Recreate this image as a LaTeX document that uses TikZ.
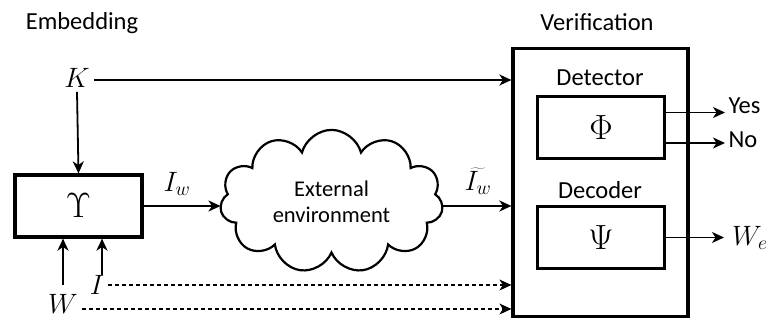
\documentclass[tikz,border=0pt]{standalone}
\usepackage{fix-cm}
\usepackage[no-math]{fontspec}
\setmainfont{Carlito}
\usetikzlibrary{arrows.meta, positioning, shapes.symbols}

\begin{document}
\begin{tikzpicture}[x=1pt, y=-1pt,
    lbl/.style={font=\fontsize{24.5}{27}\selectfont},
    sym/.style={font=\fontsize{28}{31}\selectfont, inner sep=4pt},
    blk/.style={draw, line width=3.2pt, minimum width=127pt, minimum height=62pt,
                inner sep=0pt, font=\fontsize{35}{38}\selectfont},
    env/.style={cloud, draw, line width=2.2pt, cloud puffs=11, aspect=1.6,
                minimum width=223pt, minimum height=137pt, align=center,
                font=\fontsize{22.5}{26}\selectfont},
    flow/.style={-{Stealth[length=12pt, width=11pt, inset=3.5pt]}, line width=1.8pt},
    dashflow/.style={flow, line width=1.1pt, dash pattern=on 4pt off 3pt},
]
\useasboundingbox (0,0) rectangle (772,320);
\node[lbl] (emb) at (82,23) {Embedding};
\node[lbl] (verlbl) at (597,22) {Verification};
\node[draw, line width=3.2pt, minimum width=175pt, minimum height=268pt] (ver) at (600.5,182.5) {};
\node[blk] (ups) at (78.5,206) {$\Upsilon$};
\node[blk] (phi) at (601,127.5) {$\Phi$};
\node[blk] (psi) at (601,237.5) {$\Psi$};
\node[lbl] (det) at (600,78) {Detector};
\node[lbl] (dec) at (600,190) {Decoder};
\node[env] (cl) at (331.5,201.5) {External\\environment};
\node[sym] (K) at (77,78) {$K$};
\node[sym] (Iw) at (177,184) {$I_w$};
\node[sym] (Iwt) at (478,181) {$\widetilde{I_w}$};
\node[sym] (I) at (97,285) {$I$};
\node[sym] (W) at (63,304) {$W$};
\node[lbl, anchor=west] (yes) at (725,106) {Yes};
\node[lbl, anchor=west] (no) at (725,140) {No};
\node[sym, anchor=west, inner sep=8pt] (We) at (724,238) {$W_e$};
\draw[flow] ([yshift=-2pt]K.east) -- ([yshift=-2pt]K.east -| ver.west);
\draw[flow] (K.south) -- (ups.north);
\draw[flow] (ups.east) -- (ups.east -| cl.west);
\draw[flow] (cl.east |- ups.east) -- (ups.east -| ver.west);
\draw[flow] ([xshift=5pt,yshift=-4pt]I.north) -- ([xshift=5pt]I.north |- ups.south);
\draw[flow] ([yshift=5pt]W.north) -- (W.north |- ups.south);
\draw[dashflow] (I.east) -- (I.east -| ver.west);
\draw[dashflow] ([yshift=-5pt]W.east) -- ([yshift=-5pt]W.east -| ver.west);
\draw[flow] ([yshift=15pt]phi.east) -- ([yshift=15pt]phi.east -| yes.west);
\draw[flow] ([yshift=-15.5pt]phi.east) -- ([yshift=-15.5pt]phi.east -| no.west);
\draw[flow] (psi.east) -- (psi.east -| We.west);
\end{tikzpicture}
\end{document}
